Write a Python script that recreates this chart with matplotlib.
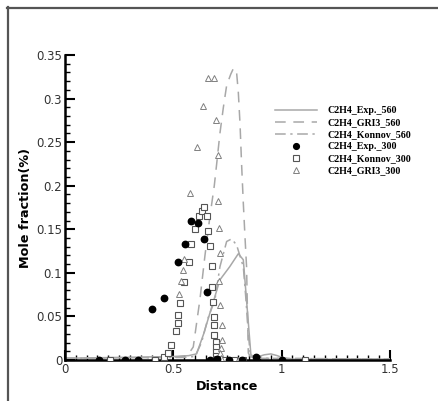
import numpy as np
import matplotlib
matplotlib.use("Agg")
import matplotlib.pyplot as plt
from matplotlib.lines import Line2D
from matplotlib.ticker import MultipleLocator, FuncFormatter

# ---- flame profiles, 560 case (lines) ----
exp560_x = [0.0, 0.50, 0.57, 0.607, 0.64, 0.669, 0.715, 0.76, 0.80, 0.823, 0.858, 0.88, 0.92, 0.95, 0.98, 1.0, 1.05, 1.5]
exp560_y = [0.002, 0.004, 0.005, 0.007, 0.030, 0.054, 0.092, 0.107, 0.122, 0.115, 0.006, 0.003, 0.006, 0.007, 0.005, 0.003, 0.001, 0.001]

gri560_x = [0.0, 0.50, 0.565, 0.592, 0.623, 0.646, 0.669, 0.689, 0.70, 0.715, 0.731, 0.746, 0.765,
            0.778, 0.792, 0.80, 0.808, 0.815, 0.823, 0.831, 0.838, 0.846, 0.86, 1.5]
gri560_y = [0.002, 0.003, 0.005, 0.015, 0.070, 0.120, 0.165, 0.200, 0.225, 0.260, 0.290, 0.315, 0.328,
            0.335, 0.330, 0.307, 0.270, 0.225, 0.180, 0.140, 0.107, 0.008, 0.002, 0.001]

kon560_x = [0.0, 0.55, 0.60, 0.63, 0.66, 0.692, 0.715, 0.746, 0.769, 0.792, 0.823, 0.835, 0.846, 0.856, 0.9, 1.5]
kon560_y = [0.002, 0.003, 0.004, 0.020, 0.048, 0.069, 0.107, 0.136, 0.139, 0.132, 0.107, 0.070, 0.031, 0.004, 0.002, 0.001]

# ---- 300 case (symbols) ----
exp300_x = [0.157, 0.277, 0.335, 0.40, 0.457, 0.52, 0.554, 0.58, 0.612, 0.641, 0.657, 0.669, 0.703, 0.758, 0.818, 0.88, 1.0]
exp300_y = [0.0, 0.0, 0.0, 0.058, 0.071, 0.113, 0.133, 0.160, 0.157, 0.139, 0.078, 0.0, 0.001, 0.0, 0.0, 0.004, 0.0]

kon300_x = [0.208, 0.415, 0.458, 0.477, 0.489, 0.511, 0.523, 0.523, 0.529, 0.549, 0.571, 0.580, 0.600, 0.620, 0.631,
            0.641, 0.654, 0.662, 0.669, 0.680, 0.680, 0.684, 0.689, 0.689, 0.689, 0.697, 0.697, 0.697, 0.697, 0.70,
            0.74, 0.78, 0.82, 1.107]
kon300_y = [0.0, 0.0, 0.004, 0.008, 0.017, 0.033, 0.042, 0.052, 0.065, 0.090, 0.113, 0.133, 0.150, 0.165, 0.171,
            0.176, 0.165, 0.148, 0.131, 0.108, 0.084, 0.067, 0.049, 0.040, 0.029, 0.021, 0.015, 0.009, 0.005, 0.001,
            0.0, 0.0, 0.0, 0.0]

gri300_x = [0.528, 0.535, 0.546, 0.55, 0.577, 0.611, 0.638, 0.661, 0.688, 0.697, 0.705, 0.705, 0.712, 0.715,
            0.712, 0.715, 0.726, 0.726, 0.72, 0.715, 0.72, 0.76, 0.80]
gri300_y = [0.076, 0.091, 0.103, 0.116, 0.192, 0.245, 0.291, 0.324, 0.324, 0.276, 0.235, 0.182, 0.152, 0.123,
            0.091, 0.063, 0.040, 0.023, 0.014, 0.008, 0.002, 0.0, 0.0]

fig = plt.figure(figsize=(4.38, 4.01), dpi=100)
ax = fig.add_axes([0.1484, 0.1022, 0.742, 0.7606])

line_c = "#a8a8a8"
ax.plot(exp560_x, exp560_y, "-", color=line_c, lw=1.1, label="C2H4_Exp._560")
ax.plot(gri560_x, gri560_y, "--", color=line_c, lw=1.1, dashes=(7, 5), label="C2H4_GRI3_560")
ax.plot(kon560_x, kon560_y, "-.", color=line_c, lw=1.1, dashes=(7, 3, 1.5, 3), label="C2H4_Konnov_560")

ax.plot(exp300_x, exp300_y, "o", ms=4.6, color="black", ls="none", label="C2H4_Exp._300", zorder=5)
ax.plot(kon300_x, kon300_y, "s", ms=4.2, mfc="white", mec="#555555", mew=0.8, ls="none",
        label="C2H4_Konnov_300", zorder=4)
ax.plot(gri300_x, gri300_y, "^", ms=4.4, mfc="white", mec="#808080", mew=0.7, ls="none",
        label="C2H4_GRI3_300", zorder=4)

ax.set_xlim(0, 1.5)
ax.set_ylim(0, 0.35)
for s in ["top", "right"]:
    ax.spines[s].set_visible(False)
for s in ["left", "bottom"]:
    ax.spines[s].set_linewidth(1.8)
ax.set_facecolor("none")

ax.xaxis.set_major_locator(MultipleLocator(0.5))
ax.xaxis.set_minor_locator(MultipleLocator(0.05))
ax.yaxis.set_major_locator(MultipleLocator(0.05))
ax.yaxis.set_minor_locator(MultipleLocator(0.01))
ax.xaxis.set_major_formatter(FuncFormatter(lambda v, p: f"{v:g}"))
ax.yaxis.set_major_formatter(FuncFormatter(lambda v, p: f"{v:g}"))
ax.tick_params(which="major", direction="in", length=7, width=1.5, labelsize=8.5,
               labelcolor="#333333", pad=2)
ax.tick_params(which="minor", direction="in", length=3.5, width=1.0)

ax.set_xlabel("Distance", fontsize=9.2, fontweight="bold", labelpad=3)
ax.set_ylabel("Mole fraction(%)", fontsize=9.2, fontweight="bold")
ax.yaxis.set_label_coords(-0.1, 0.5)

leg = ax.legend(loc="upper left", bbox_to_anchor=(0.635, 0.845), frameon=False,
                prop={"family": "Liberation Serif", "weight": "bold", "size": 7.2},
                handlelength=4.2, handletextpad=1.0, labelspacing=0.3, borderaxespad=0,
                markerscale=0.9)

# outer frame (top and left edges)
fig.add_artist(Line2D([7 / 438, 1.0], [1 - 7.5 / 401, 1 - 7.5 / 401], transform=fig.transFigure,
                      color="#555555", lw=1.6))
fig.add_artist(Line2D([7.5 / 438, 7.5 / 438], [0.0, 1 - 7 / 401], transform=fig.transFigure,
                      color="#555555", lw=1.6))

fig.savefig("out.png", dpi=100)
